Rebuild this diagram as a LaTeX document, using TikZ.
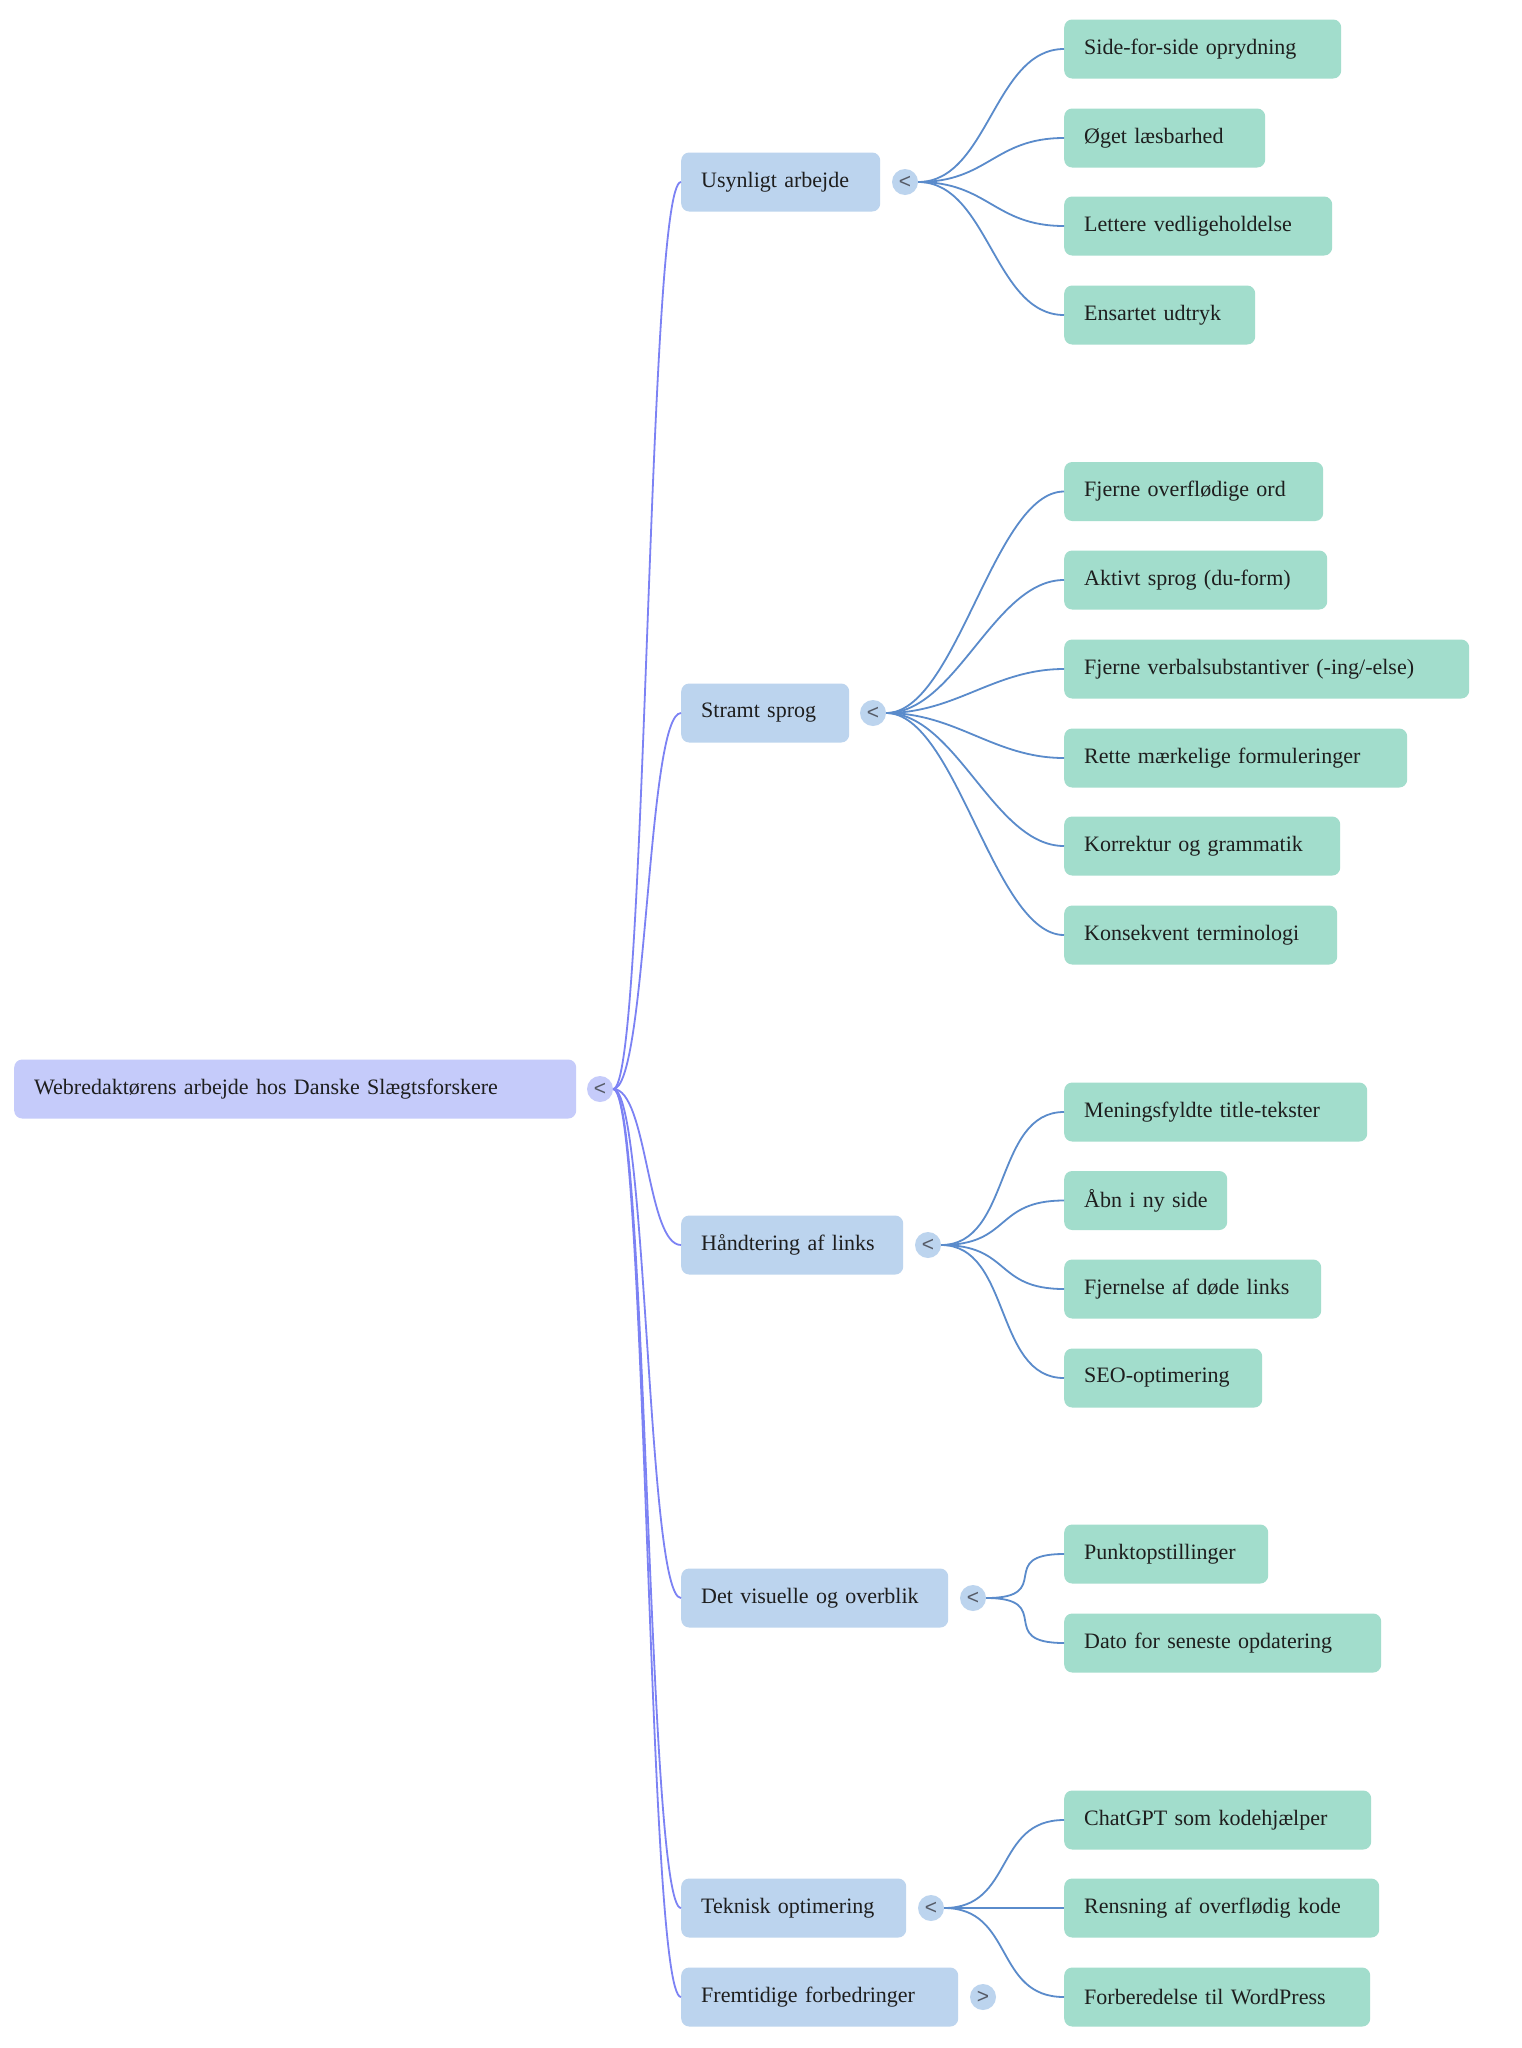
\documentclass[tikz,border=0pt]{standalone}
\usepackage{fontspec}
\setmainfont{Liberation Serif}
\newfontfamily\knobfont{Liberation Sans}
\definecolor{rootc}{HTML}{C5CBFA}
\definecolor{topc}{HTML}{BCD4EE}
\definecolor{leafc}{HTML}{A2DDCC}
\definecolor{rootline}{HTML}{7C82F4}
\definecolor{leafline}{HTML}{5A8BCB}
\definecolor{txt}{HTML}{1E1E1E}
\definecolor{knobtxt}{HTML}{555A66}
\begin{document}
\begin{tikzpicture}[x=1pt,y=-1pt,
  base/.style={rounded corners=8pt, minimum height=59pt, inner xsep=20pt, inner ysep=0pt,
    align=left, anchor=west, text=txt, font=\fontsize{22}{26}\selectfont},
  rootbox/.style={base, fill=rootc, text width=#1},
  topic/.style={base, fill=topc, text width=#1},
  leaf/.style={base, fill=leafc, text width=#1},
  knob/.style={circle, minimum size=26pt, inner sep=0pt, text=knobtxt,
    font=\knobfont\fontsize{21}{21}\selectfont},
  rootknob/.style={knob, fill=rootc},
  topknob/.style={knob, fill=topc},
  rootlink/.style={draw=rootline, line width=1.8pt},
  leaflink/.style={draw=leafline, line width=1.8pt}]
\useasboundingbox (0,0) rectangle (1521,2048);
\fill[white] (0,0) rectangle (1521,2048);

% root
\node[rootbox=522pt] (root) at (14,1089) {\mbox{Webredaktørens arbejde hos Danske Slægtsforskere}};
\node[rootknob] (k0) at (600,1089) {<};

% topics
\node[topic=159pt] (t1) at (681,182) {\mbox{Usynligt arbejde}};
\node[topic=128pt] (t2) at (681,713) {\mbox{Stramt sprog}};
\node[topic=182pt] (t3) at (681,1245) {\mbox{Håndtering af links}};
\node[topic=227pt] (t4) at (681,1598) {\mbox{Det visuelle og overblik}};
\node[topic=185pt] (t5) at (681,1908) {\mbox{Teknisk optimering}};
\node[topic=237pt] (t6) at (681,1997) {\mbox{Fremtidige forbedringer}};

\node[topknob] (k1) at (905,182) {<};
\node[topknob] (k2) at (873,713) {<};
\node[topknob] (k3) at (928,1245) {<};
\node[topknob] (k4) at (973,1598) {<};
\node[topknob] (k5) at (931,1908) {<};
\node[topknob] (k6) at (983,1997) {>};

% leaves
\node[leaf=237pt] (l11) at (1064,49) {\mbox{Side-for-side oprydning}};
\node[leaf=161pt] (l12) at (1064,138) {\mbox{Øget læsbarhed}};
\node[leaf=228pt] (l13) at (1064,226) {\mbox{Lettere vedligeholdelse}};
\node[leaf=151pt] (l14) at (1064,315) {\mbox{Ensartet udtryk}};

\node[leaf=219pt] (l21) at (1064,491.5) {\mbox{Fjerne overflødige ord}};
\node[leaf=223pt] (l22) at (1064,580) {\mbox{Aktivt sprog (du-form)}};
\node[leaf=365pt] (l23) at (1064,669) {\mbox{Fjerne verbalsubstantiver (-ing/-else)}};
\node[leaf=303pt] (l24) at (1064,758) {\mbox{Rette mærkelige formuleringer}};
\node[leaf=236pt] (l25) at (1064,846) {\mbox{Korrektur og grammatik}};
\node[leaf=233pt] (l26) at (1064,935) {\mbox{Konsekvent terminologi}};

\node[leaf=263pt] (l31) at (1064,1112) {\mbox{Meningsfyldte title-tekster}};
\node[leaf=123pt] (l32) at (1064,1200.5) {\mbox{Åbn i ny side}};
\node[leaf=217pt] (l33) at (1064,1289) {\mbox{Fjernelse af døde links}};
\node[leaf=158pt] (l34) at (1064,1378) {\mbox{SEO-optimering}};

\node[leaf=164pt] (l41) at (1064,1554) {\mbox{Punktopstillinger}};
\node[leaf=277pt] (l42) at (1064,1643) {\mbox{Dato for seneste opdatering}};

\node[leaf=267pt] (l51) at (1064,1820) {\mbox{ChatGPT som kodehjælper}};
\node[leaf=275pt] (l52) at (1064,1908) {\mbox{Rensning af overflødig kode}};
\node[leaf=266pt] (l53) at (1064,1997) {\mbox{Forberedelse til WordPress}};

% root links
\foreach \t in {t1,t2,t3,t4,t5,t6}
  \draw[rootlink] (k0.east) .. controls +(34,0) and +(-34,0) .. (\t.west);

% leaf links
\foreach \k/\l in {k1/l11,k1/l12,k1/l13,k1/l14,
                   k2/l21,k2/l22,k2/l23,k2/l24,k2/l25,k2/l26,
                   k3/l31,k3/l32,k3/l33,k3/l34,
                   k4/l41,k4/l42,
                   k5/l51,k5/l52,k5/l53}
  \draw[leaflink] (\k.east) .. controls +(70,0) and +(-70,0) .. (\l.west);
\end{tikzpicture}
\end{document}
